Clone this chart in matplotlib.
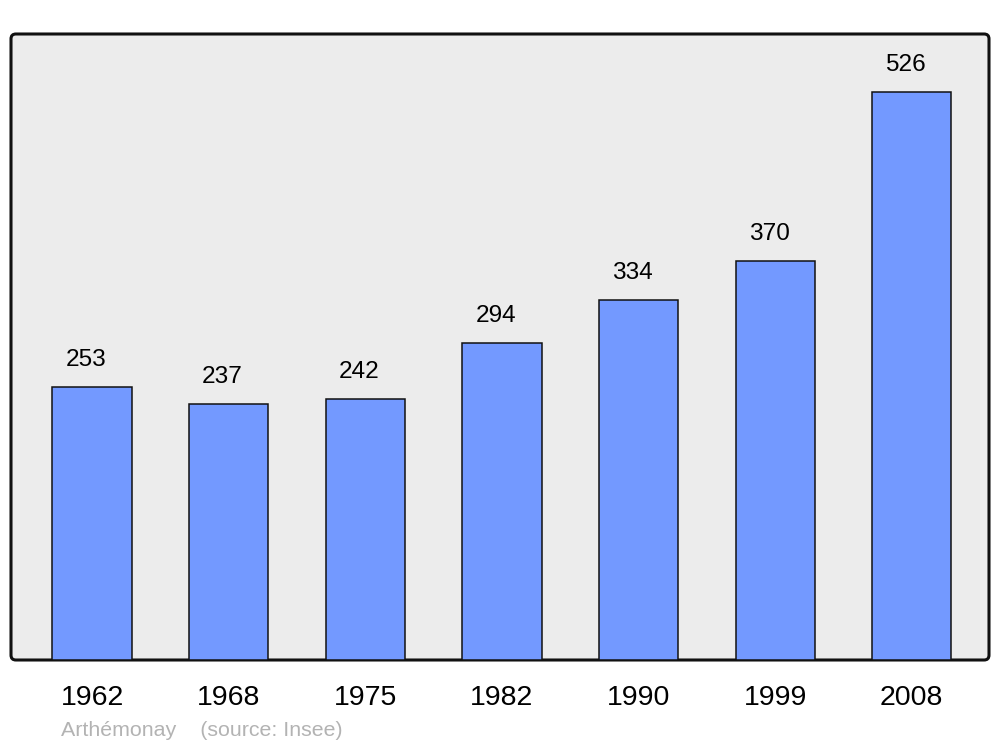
import matplotlib.pyplot as plt
from matplotlib.patches import FancyBboxPatch

plt.rcParams['font.family'] = ['Liberation Sans', 'DejaVu Sans']

years = ['1962', '1968', '1975', '1982', '1990', '1999', '2008']
population = [253, 237, 242, 294, 334, 370, 526]

bar_color = '#7399ff'
bg_color = '#ececec'

fig = plt.figure(figsize=(10, 7.47), dpi=100)
# axes box in figure fractions (pixels 11..989 x 34..660)
left, right, top, bottom = 11 / 1000, 989 / 1000, 1 - 34 / 747, 1 - 660 / 747
ax = fig.add_axes([left, bottom, right - left, top - bottom])
ax.set_facecolor('none')

# rounded frame behind the bars
frame = FancyBboxPatch((0, 0), 1, 1,
                       boxstyle='round,pad=0,rounding_size=0.005',
                       mutation_aspect=(right - left) * 1000 / ((top - bottom) * 747),
                       transform=ax.transAxes, facecolor=bg_color,
                       edgecolor='#111111', linewidth=2.2, zorder=0,
                       clip_on=False)
ax.add_patch(frame)

x = list(range(len(years)))
bars = ax.bar(x, population, width=0.58, color=bar_color,
              edgecolor='#111111', linewidth=1.1, zorder=2)

# value labels sit a little left of the bar centre in the original
for xi, v in zip(x, population):
    ax.annotate(str(v), (xi, v), xytext=(-6, 27), textcoords='offset pixels',
                ha='center', va='center', fontsize=17.6, color='black')

ax.set_xlim(-0.593, 6.565)
ax.set_ylim(0, 580)
for s in ax.spines.values():
    s.set_visible(False)
ax.set_yticks([])
ax.set_xticks(x)
ax.set_xticklabels(years, fontsize=20.5)
ax.tick_params(axis='x', length=0, pad=18)

fig.text(61 / 1000, 1 - 730 / 747, 'Arthémonay    (source: Insee)',
         fontsize=15.4, color='#b3b3b3', ha='left', va='center')

fig.savefig('out.png', dpi=100, facecolor='white')
